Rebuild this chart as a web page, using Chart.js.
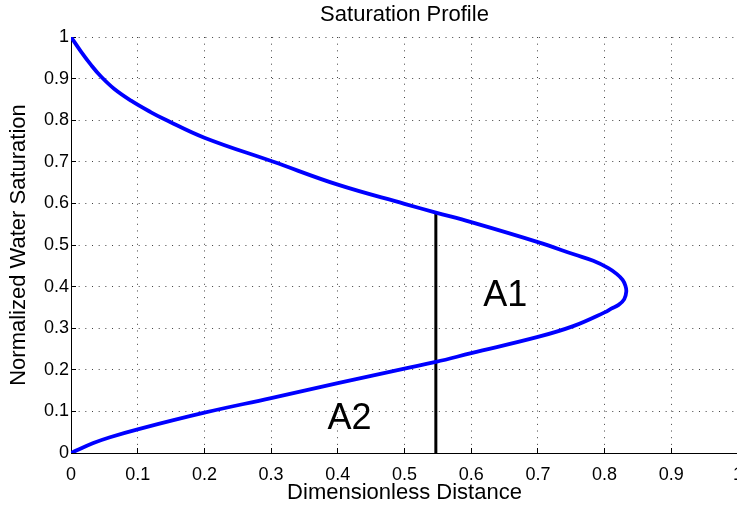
<!DOCTYPE html>
<html>
<head>
<meta charset="utf-8">
<title>Saturation Profile</title>
<script src="https://cdn.jsdelivr.net/npm/chart.js@4.4.1/dist/chart.umd.min.js"></script>
<style>
  html, body { margin: 0; padding: 0; background: #fff; overflow: hidden; }
  #wrap { width: 760px; height: 507px; }
</style>
</head>
<body>
<div id="wrap"><canvas id="c" width="760" height="507"></canvas></div>
<script>
// Saturation profile, traced along the curve from Sw = 1 down to Sw = 0
const distance = [
  0, 0.015, 0.030, 0.045, 0.065, 0.090, 0.120, 0.1395, 0.200, 0.3035,
  0.400, 0.500, 0.547, 0.600, 0.700, 0.755, 0.783, 0.805, 0.8185, 0.827,
  0.8312, 0.8325, 0.8295, 0.821, 0.810, 0.800, 0.753, 0.700, 0.600, 0.547,
  0.500, 0.400, 0.300, 0.200, 0.100, 0.0585, 0.0335, 0
];
const saturation = [
  1.000, 0.965, 0.933, 0.905, 0.875, 0.847, 0.819, 0.803, 0.758, 0.700,
  0.645, 0.599, 0.578, 0.555, 0.507, 0.477, 0.462, 0.445, 0.430, 0.416,
  0.402, 0.388, 0.370, 0.356, 0.347, 0.338, 0.305, 0.279, 0.240, 0.219,
  0.203, 0.168, 0.132, 0.097, 0.057, 0.038, 0.024, 0
];

// Front position marker
const frontX = [0.547, 0.547];
const frontY = [0, 0.578];

// Area labels
const areaNames = ['A1', 'A2'];
const areaX = [0.651, 0.4175];
const areaY = [0.377, 0.082];

const xTicks = [0, 0.1, 0.2, 0.3, 0.4, 0.5, 0.6, 0.7, 0.8, 0.9, 1];
const yTicks = [0, 0.1, 0.2, 0.3, 0.4, 0.5, 0.6, 0.7, 0.8, 0.9, 1];

const FONT = '"Liberation Sans", Arial, Helvetica, sans-serif';
Chart.defaults.font.family = FONT;
Chart.defaults.color = '#000';

const areaLabels = {
  id: 'areaLabels',
  afterDatasetsDraw(chart) {
    const { ctx, scales: { x, y } } = chart;
    ctx.save();
    ctx.font = '36px ' + FONT;
    ctx.fillStyle = '#000';
    ctx.textAlign = 'center';
    ctx.textBaseline = 'middle';
    areaNames.forEach((name, i) => {
      ctx.fillText(name, x.getPixelForValue(areaX[i]), y.getPixelForValue(areaY[i]));
    });
    ctx.restore();
  }
};

const fmt = v => String(+(+v).toFixed(1));

new Chart(document.getElementById('c'), {
  type: 'scatter',
  data: {
    datasets: [
      {
        data: distance.map((d, i) => ({ x: d, y: saturation[i] })),
        showLine: true,
        borderColor: '#0000ff',
        borderWidth: 3.8,
        pointRadius: 0,
        tension: 0.4,
        fill: false
      },
      {
        data: frontX.map((d, i) => ({ x: d, y: frontY[i] })),
        showLine: true,
        borderColor: '#000',
        borderWidth: 3,
        pointRadius: 0,
        fill: false
      }
    ]
  },
  options: {
    responsive: false,
    animation: false,
    devicePixelRatio: 1,
    layout: { padding: { left: 0, right: 22, top: 0, bottom: 0 } },
    plugins: {
      legend: { display: false },
      tooltip: { enabled: false },
      title: {
        display: true,
        text: 'Saturation Profile',
        fullSize: false,
        font: { size: 22, weight: 'normal' },
        color: '#000',
        padding: { top: 1.5, bottom: 9.1 }
      }
    },
    scales: {
      x: {
        type: 'linear',
        min: 0, max: 1,
        afterBuildTicks: s => { s.ticks = xTicks.map(v => ({ value: v })); },
        afterFit: s => { s.height = 54; },
        ticks: { font: { size: 18 }, padding: 16, maxRotation: 0, callback: fmt, color: '#000' },
        grid: { color: 'rgba(0,0,0,0.75)', lineWidth: 1, drawTicks: true, tickLength: -5, tickColor: '#000', tickWidth: 1 },
        border: { display: true, color: '#000', width: 1, dash: [1, 5.67] },
        title: { display: true, text: 'Dimensionless Distance', font: { size: 22 }, color: '#000', padding: { top: 0, bottom: 0.5 } }
      },
      y: {
        type: 'linear',
        min: 0, max: 1,
        afterBuildTicks: s => { s.ticks = yTicks.map(v => ({ value: v })); },
        afterFit: s => { s.width = 71; },
        ticks: { font: { size: 18 }, padding: 7, callback: fmt, color: '#000' },
        grid: { color: 'rgba(0,0,0,0.75)', lineWidth: 1, drawTicks: true, tickLength: -5, tickColor: '#000', tickWidth: 1 },
        border: { display: true, color: '#000', width: 1, dash: [1, 5.67] },
        title: { display: true, text: 'Normalized Water Saturation', font: { size: 22 }, color: '#000', padding: { top: 5.8, bottom: 0 } }
      }
    }
  },
  plugins: [areaLabels]
});
</script>
</body>
</html>
